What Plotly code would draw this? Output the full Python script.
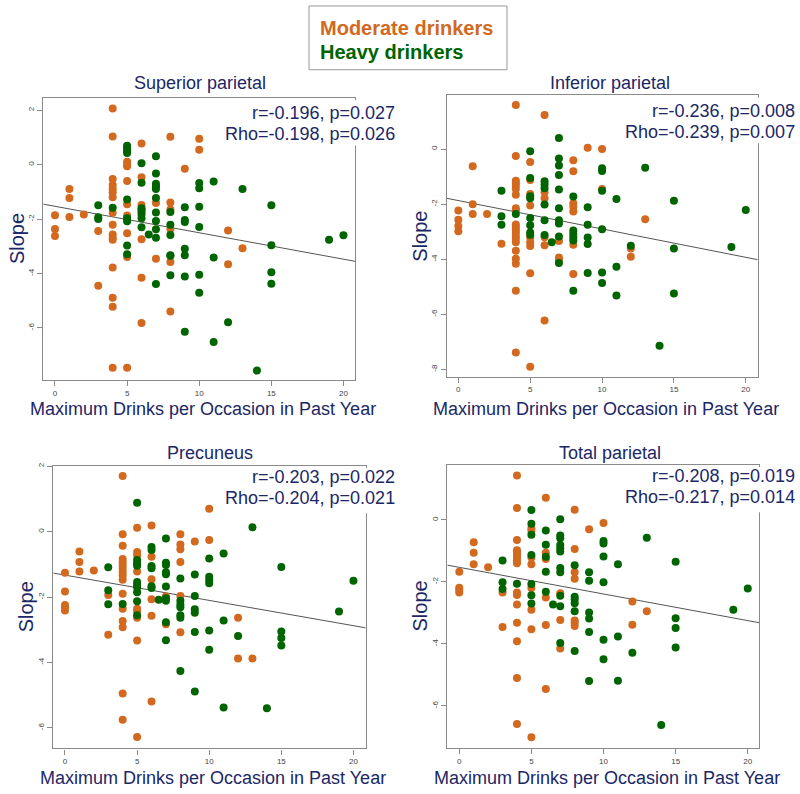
import plotly.graph_objects as go

# ── Data (x = max drinks, y = slope) ─────────────────────────────────────────
# each dict: x value -> list of slopes at that x

SUP_MODERATE = {
    0: [-1.86, -2.36, -2.62], 1: [-0.89, -1.22, -1.92], 2: [-1.83], 3: [-2.44, -4.45],
    4: [2.07, 1.04, -0.53, -0.75, -0.89, -1.01, -1.20, -1.77, -2.21, -2.57, -2.69, -2.76, -3.78, -4.89, -5.22, -7.46],
    5: [0.11, 0.0, -0.06, -0.60, -1.45, -1.87, -2.52, -3.39, -7.46],
    6: [0.78, -0.46, -1.48, -1.65, -2.74, -4.16, -5.82],
    7: [-1.41, -3.46], 8: [1.03, -1.39, -1.65, -2.36, -3.58, -5.40],
    9: [-0.15], 10: [0.95, 0.55], 12: [-2.42, -3.66], 13: [-3.07],
}
SUP_HEAVY = {
    3: [-1.49, -1.93, -2.00], 4: [-1.58],
    5: [0.70, 0.60, 0.50, 0.43, -1.28, -1.97, -2.08, -2.97, -3.29],
    6: [0.05, -0.66, -1.60, -1.72, -1.82, -1.97, -2.30], 6.5: [-2.57],
    7: [0.31, -0.32, -0.70, -0.79, -0.89, -1.22, -1.76, -2.07, -2.37, -2.69, -4.39],
    8: [-1.74, -2.21, -2.58, -3.33, -3.35, -4.06],
    9: [-1.56, -2.03, -2.11, -3.09, -3.33, -4.11, -6.14],
    10: [-0.67, -0.87, -1.55, -2.29, -4.05, -4.71],
    11: [-0.62, -3.41, -6.52], 12: [-5.79], 13: [-0.89], 14: [-7.57],
    15: [-1.49, -2.96, -3.95, -4.38], 19: [-2.76], 20: [-2.59],
}

INF_MODERATE = {
    0: [-2.23, -2.57, -2.79, -2.98], 1: [-0.62, -2.0, -2.36], 2: [-2.36], 3: [-3.44],
    4: [1.60, -0.25, -1.15, -1.23, -1.33, -1.45, -1.66, -2.15, -2.23, -2.74, -2.83, -2.93, -3.04,
        -3.16, -3.26, -3.38, -3.69, -3.98, -4.16, -5.14, -7.39],
    5: [-0.47, -1.12, -1.63, -2.05, -3.21, -3.38, -3.52, -4.51, -7.90],
    6: [1.24, -1.57, -1.79, -3.20, -3.49, -6.22],
    7: [-3.34, -3.94, -4.02], 8: [-0.41, -0.81, -1.97, -2.09, -2.27, -3.47, -4.54],
    9: [0.05], 10: [0.0, -1.45], 12: [-3.61, -3.91], 13: [-2.55],
}
INF_HEAVY = {
    3: [-1.51, -2.44, -2.75], 4: [-2.36],
    5: [-0.08, -1.05, -1.71, -1.79, -2.50, -2.77, -3.03, -3.11],
    6: [-1.17, -1.29, -1.42, -2.01, -2.58, -3.12], 6.5: [-3.38],
    7: [0.40, -0.34, -0.60, -0.94, -1.47, -2.15, -2.58, -2.70, -3.17, -4.14],
    8: [-1.72, -2.96, -3.08, -3.20, -3.32, -5.14],
    9: [-2.11, -2.75, -3.21, -3.45, -4.50],
    10: [-0.70, -0.80, -1.51, -2.91, -4.48, -4.86],
    11: [-1.81, -4.27, -5.32], 12: [-3.51], 13: [-0.68], 14: [-7.14],
    15: [-1.88, -3.61, -5.24], 19: [-3.56], 20: [-2.21],
}

PRE_MODERATE = {
    0: [-1.26, -1.83, -2.24, -2.32, -2.41], 1: [-0.61, -0.93, -1.22], 2: [-1.19], 3: [-1.94, -3.15],
    4: [1.70, -0.08, -0.43, -0.84, -0.94, -1.04, -1.14, -1.25, -1.35, -1.47, -1.90, -2.36, -2.73,
        -2.92, -4.95, -5.75],
    5: [0.12, -0.62, -0.72, -1.22, -2.36, -2.43, -2.63, -3.33, -6.28],
    6: [0.19, -0.77, -1.46, -2.07, -2.57, -5.19],
    7: [-1.98, -2.83], 8: [-0.08, -0.39, -0.54, -0.93, -1.97, -3.08],
    9: [-0.30], 10: [0.70, -0.26], 12: [-2.63, -3.88], 13: [-3.88],
}
PRE_HEAVY = {
    3: [-1.09, -1.79, -2.22], 4: [-2.21],
    5: [0.88, -0.87, -0.97, -1.04, -1.54, -1.63, -1.70, -1.85, -2.13, -2.56],
    6: [-0.47, -0.56, -1.05, -1.12, -1.67, -1.72], 6.5: [-2.08],
    7: [-0.21, -0.95, -1.02, -1.24, -1.30, -1.68, -2.04, -2.11, -2.77, -3.32],
    8: [-1.43, -2.11, -2.23, -2.31, -2.56, -2.63, -4.26],
    9: [-1.31, -1.97, -2.37, -2.48, -3.07, -4.89],
    10: [-0.82, -1.38, -1.48, -1.58, -3.02, -3.61],
    11: [-0.67, -2.72, -5.38], 12: [-3.19], 13: [0.13], 14: [-5.40],
    15: [-1.08, -3.05, -3.25, -3.48], 19: [-2.44], 20: [-1.50],
}

TOT_MODERATE = {
    0: [-1.67, -2.19, -2.25, -2.34], 1: [-0.72, -1.06, -1.43], 2: [-1.53], 3: [-2.34, -3.46],
    4: [1.44, 0.39, -0.65, -0.98, -1.06, -1.15, -1.23, -1.32, -1.40, -2.34, -2.42, -2.73, -3.32,
        -3.92, -5.10, -6.59],
    5: [-0.27, -0.35, -1.21, -1.43, -2.20, -2.90, -3.53, -7.02],
    6: [0.72, -1.06, -1.26, -2.50, -3.39, -5.46],
    7: [-2.37, -3.23, -4.15], 8: [0.33, -0.94, -1.69, -1.90, -3.25, -3.33, -3.42],
    9: [-0.30], 10: [-0.10], 12: [-2.63, -3.38], 13: [-2.95],
}
TOT_HEAVY = {
    3: [-1.31, -2.01, -2.23], 4: [-2.06],
    5: [0.32, -0.12, -0.48, -1.13, -2.07, -2.43, -2.70],
    6: [-0.34, -0.80, -1.19, -1.67, -2.32], 6.5: [-2.73],
    7: [0.02, -0.50, -0.59, -0.81, -0.91, -1.02, -1.55, -1.69, -2.45, -2.79, -3.97],
    8: [-1.46, -2.48, -2.57, -2.69, -2.95, -4.23],
    9: [-1.69, -1.96, -2.99, -3.18, -3.62, -5.20],
    10: [-0.68, -0.76, -1.18, -2.01, -3.87, -4.50],
    11: [-1.43, -3.76, -5.19], 12: [-4.29], 13: [-0.57], 14: [-6.62],
    15: [-1.35, -3.17, -3.49, -4.12], 19: [-2.90], 20: [-2.21],
}

TITLES = ["Superior parietal", "Inferior parietal", "Precuneus", "Total parietal"]
STATS_R = ["r=-0.196, p=0.027", "r=-0.236, p=0.008", "r=-0.203, p=0.022", "r=-0.208, p=0.019"]
STATS_RHO = ["Rho=-0.198, p=0.026", "Rho=-0.239, p=0.007", "Rho=-0.204, p=0.021", "Rho=-0.217, p=0.014"]
FIT_INTERCEPT = [-1.53, -1.87, -1.33, -1.53]
FIT_SLOPE = [-0.0972, -0.103, -0.0773, -0.086]
X_TICKS = [0, 5, 10, 15, 20]
Y_TICKS = [2, 0, -2, -4, -6, -8]

MODERATE = [SUP_MODERATE, INF_MODERATE, PRE_MODERATE, TOT_MODERATE]
HEAVY = [SUP_HEAVY, INF_HEAVY, PRE_HEAVY, TOT_HEAVY]

# ── Layout (pixel boxes of each panel) ───────────────────────────────────────
W, H = 800, 794
ORANGE, GREEN, NAVY = "#D2691E", "#006400", "#1B2766"
AXIS_GREY = "#8a8a8a"
FONT = "Liberation Sans, Arial, sans-serif"

# (left, right, top, bottom) in px, x range, y range
PANELS = [
    dict(box=(43.3, 355.0, 95.0, 378.3), xr=(-0.81, 20.8), yr=(-7.91, 2.465), tx=200, ty=80, sx=397, sy=(110, 131), ly=408),
    dict(box=(446.7, 757.7, 92.7, 375.0), xr=(-0.81, 20.83), yr=(-8.26, 1.95), tx=610, ty=80, sx=797, sy=(108, 129), ly=408),
    dict(box=(53.3, 365.7, 464.3, 748.3), xr=(-0.81, 20.85), yr=(-6.63, 2.02), tx=210, ty=452, sx=397, sy=(476, 497), ly=778),
    dict(box=(447.3, 759.3, 463.3, 747.7), xr=(-0.83, 20.8), yr=(-7.36, 1.79), tx=610, ty=452, sx=797, sy=(475, 496), ly=778),
]


def fx(px):
    return px / W


def fy(py):
    return 1 - py / H


def flatten(d):
    xs, ys = [], []
    for k, vals in d.items():
        for v in vals:
            xs.append(k)
            ys.append(v)
    return xs, ys


fig = go.Figure()
annotations, shapes = [], []

for i, p in enumerate(PANELS):
    n = "" if i == 0 else str(i + 1)
    xa, ya = "x" + n, "y" + n
    l, r, t, b = p["box"]

    # regression line across the full axis range
    x0, x1 = p["xr"]
    fig.add_trace(go.Scatter(
        x=[x0, x1], y=[FIT_INTERCEPT[i] + FIT_SLOPE[i] * x0, FIT_INTERCEPT[i] + FIT_SLOPE[i] * x1],
        mode="lines", line=dict(color="#555555", width=1), xaxis=xa, yaxis=ya,
        showlegend=False, hoverinfo="skip"))

    for data, col in [(MODERATE[i], ORANGE), (HEAVY[i], GREEN)]:
        xs, ys = flatten(data)
        fig.add_trace(go.Scatter(
            x=xs, y=ys, mode="markers", marker=dict(color=col, size=8, line=dict(width=0)),
            xaxis=xa, yaxis=ya, showlegend=False))

    yt = [v for v in Y_TICKS if p["yr"][0] <= v <= p["yr"][1]]
    axis_common = dict(showline=True, mirror=True, linecolor=AXIS_GREY, linewidth=1.3,
                       ticks="outside", ticklen=5, tickcolor=AXIS_GREY, tickwidth=1,
                       showgrid=False, zeroline=False,
                       tickfont=dict(family=FONT, size=8, color="#444444"))
    fig.update_layout(**{
        "xaxis" + n: dict(domain=[fx(l), fx(r)], range=list(p["xr"]), anchor=ya,
                          tickvals=X_TICKS, ticktext=[str(v) for v in X_TICKS], **axis_common),
        "yaxis" + n: dict(domain=[fy(b), fy(t)], range=list(p["yr"]), anchor=xa,
                          tickvals=yt, ticktext=[str(v) for v in yt], tickangle=-90, **axis_common),
    })

    # white box behind stats text (covers the right border like R's legend)
    shapes.append(dict(type="rect", xref="paper", yref="paper", layer="above",
                       x0=fx(p["sx"] - 172), x1=fx(min(p["sx"] + 3, W)), y0=fy(t + 2.5), y1=fy(t + 48),
                       fillcolor="white", line=dict(width=0)))
    annotations.append(dict(text=STATS_R[i], x=fx(p["sx"]), y=fy(p["sy"][0]), xref="paper", yref="paper",
                            xanchor="right", yanchor="middle", showarrow=False,
                            font=dict(family=FONT, size=18, color=NAVY)))
    annotations.append(dict(text=STATS_RHO[i], x=fx(p["sx"]), y=fy(p["sy"][1]), xref="paper", yref="paper",
                            xanchor="right", yanchor="middle", showarrow=False,
                            font=dict(family=FONT, size=18, color=NAVY)))
    # title
    annotations.append(dict(text=TITLES[i], x=fx(p["tx"]), y=fy(p["ty"]), xref="paper", yref="paper",
                            xanchor="center", yanchor="middle", showarrow=False,
                            font=dict(family=FONT, size=18, color=NAVY)))
    # axis labels
    annotations.append(dict(text="Maximum Drinks per Occasion in Past Year", x=fx((l + r) / 2 + 4),
                            y=fy(p["ly"]), xref="paper", yref="paper", xanchor="center", yanchor="middle",
                            showarrow=False, font=dict(family=FONT, size=18, color=NAVY)))
    annotations.append(dict(text="Slope", x=fx(l - 27), y=fy((t + b) / 2), xref="paper", yref="paper",
                            xanchor="center", yanchor="middle", textangle=-90, showarrow=False,
                            font=dict(family=FONT, size=20, color=NAVY)))

# group legend box at the top
shapes.append(dict(type="rect", xref="paper", yref="paper", x0=fx(309), x1=fx(507), y0=fy(67), y1=fy(3),
                   line=dict(color="#999999", width=1), fillcolor="white"))
annotations.append(dict(text="<b>Moderate drinkers</b>", x=fx(318), y=fy(25), xref="paper", yref="paper",
                        xanchor="left", yanchor="middle", showarrow=False,
                        font=dict(family=FONT, size=20, color=ORANGE)))
annotations.append(dict(text="<b>Heavy drinkers</b>", x=fx(318), y=fy(49), xref="paper", yref="paper",
                        xanchor="left", yanchor="middle", showarrow=False,
                        font=dict(family=FONT, size=20, color=GREEN)))

fig.update_layout(
    width=W, height=H, margin=dict(l=0, r=0, t=0, b=0),
    paper_bgcolor="white", plot_bgcolor="white",
    annotations=annotations, shapes=shapes, showlegend=False,
)

# drop the default page margin so the figure sits at the window origin
fig.write_html("out.html", config={"displayModeBar": False},
               post_script="document.body.style.margin = '0';")
